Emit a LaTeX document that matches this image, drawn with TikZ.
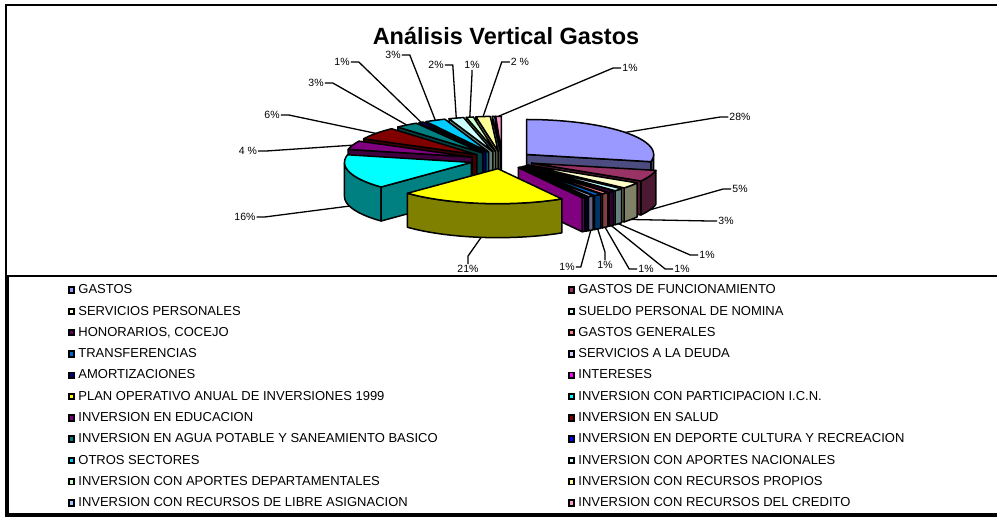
\documentclass[tikz,border=0pt]{standalone}
\usepackage{fontspec}
\setmainfont{Liberation Sans}
\usetikzlibrary{positioning}

\definecolor{colGastos}{HTML}{9999FF}
\definecolor{colFunc}{HTML}{993366}
\definecolor{colServ}{HTML}{FFFFCC}
\definecolor{colSueldo}{HTML}{CCFFFF}
\definecolor{colHonor}{HTML}{660066}
\definecolor{colGenerales}{HTML}{FF8080}
\definecolor{colTransf}{HTML}{0066CC}
\definecolor{colDeuda}{HTML}{CCCCFF}
\definecolor{colAmort}{HTML}{000080}
\definecolor{colInter}{HTML}{FF00FF}
\definecolor{colPlan}{HTML}{FFFF00}
\definecolor{colIcn}{HTML}{00FFFF}
\definecolor{colEduc}{HTML}{800080}
\definecolor{colSalud}{HTML}{800000}
\definecolor{colAgua}{HTML}{008080}
\definecolor{colDeporte}{HTML}{0000FF}
\definecolor{colOtros}{HTML}{00CCFF}
\definecolor{colNac}{HTML}{CCFFFF}
\definecolor{colDepto}{HTML}{CCFFCC}
\definecolor{colPropios}{HTML}{FFFF99}
\definecolor{colLibre}{HTML}{99CCFF}
\definecolor{colCredito}{HTML}{FF99CC}

\tikzset{
  wall/.style={fill=#1!50!black, draw=black, line width=1.5pt, line join=round},
  slicetop/.style={fill=#1, draw=black, line width=1.5pt, line join=round},
  pct/.style={inner sep=1pt, font=\fontsize{10.5}{12}\selectfont},
  leader/.style={draw=black, line width=1.3pt},
  swatch/.style={draw=black, line width=1.9pt, minimum width=4.5pt, minimum height=5.5pt, inner sep=0pt},
  legtext/.style={inner sep=0pt, font=\fontsize{13}{15}\selectfont}
}

\newcommand\explode{0.25}
% one exploded slice: start angle, end angle, colour, name
\newcommand\pieslice[4]{%
  \pgfmathsetmacro\pmid{(#1+#2)/2}%
  \pgfmathsetmacro\pdx{\explode*sin(\pmid)}%
  \pgfmathsetmacro\pdy{\explode*cos(\pmid)}%
  \begin{scope}[shift={(\pdx,\pdy,0)}]
    \pgfmathsetmacro\wfrom{max(#1,90)}%
    \pgfmathsetmacro\wto{min(#2,270)}%
    \ifdim\wfrom pt<\wto pt
      \filldraw[wall=#3] plot[domain=\wfrom:\wto,samples=30] ({sin(\x)},{cos(\x)},0)
        -- plot[domain=\wto:\wfrom,samples=30] ({sin(\x)},{cos(\x)},-1) -- cycle;
    \fi
    \pgfmathsetmacro\psinA{sin(#1)}%
    \ifdim\psinA pt<-0.001pt
      \filldraw[wall=#3] (0,0,0) -- ({sin(#1)},{cos(#1)},0) -- ({sin(#1)},{cos(#1)},-1) -- (0,0,-1) -- cycle;
    \fi
    \pgfmathsetmacro\psinB{sin(#2)}%
    \ifdim\psinB pt>0.001pt
      \filldraw[wall=#3] (0,0,0) -- ({sin(#2)},{cos(#2)},0) -- ({sin(#2)},{cos(#2)},-1) -- (0,0,-1) -- cycle;
    \fi
    \filldraw[slicetop=#3] (0,0,0) -- plot[domain=#1:#2,samples=30] ({sin(\x)},{cos(\x)},0) -- cycle;
    \pgfmathsetmacro\pz{cos(\pmid)>0 ? 0 : -1}%
    \coordinate (a#4) at ({sin(\pmid)},{cos(\pmid)},\pz);
  \end{scope}}

\begin{document}
\begin{tikzpicture}[x=1pt, y=-1pt]
  \useasboundingbox (0,0) rectangle (997,519);

  % frame of chart and legend
  \draw[line width=2pt] (6,276) -- (6,5) -- (997,5);
  \draw[line width=2.5pt] (6,276) -- (997,276);
  \draw[line width=3.5pt] (7,276) -- (7,515) -- (997,515);

  \node[font=\bfseries\fontsize{23.5}{26}\selectfont, anchor=base, inner sep=0pt] (title) at (506,45) {Análisis Vertical Gastos};

  % the pie, back slices first
  \begin{scope}[shift={(502,160)}, x={(127pt,0pt)}, y={(0pt,35pt)}, z={(0pt,34pt)}]
    \foreach \sa/\sb/\col/\nm in {357.48/360/colCredito/Credito, 356.4/357.48/colLibre/Libre,
        349.92/356.4/colPropios/Propios, 346.68/349.92/colDepto/Depto, 339.84/346.68/colNac/Nac,
        330.48/339.84/colOtros/Otros, 328.32/330.48/colDeporte/Deporte, 317.88/328.32/colAgua/Agua,
        0/101.88/colGastos/Gastos, 297/317.88/colSalud/Salud, 282.6/297/colEduc/Educ,
        225.36/282.6/colIcn/Icn, 101.88/120.6/colFunc/Func, 120.6/130.68/colServ/Serv,
        130.68/135/colSueldo/Sueldo, 135/137.88/colHonor/Honor, 137.88/141.12/colGenerales/Generales,
        141.12/144.72/colTransf/Transf, 144.72/147.24/colDeuda/Deuda, 147.24/148.68/colAmort/Amort,
        148.68/149.76/colInter/Inter, 149.76/225.36/colPlan/Plan}
      {\pieslice{\sa}{\sb}{\col}{\nm}}
  \end{scope}

  % percentage labels and leader lines
  \foreach \nm/\lx/\ly/\lbl/\sd/\ox/\oy in {Gastos/740/117/28\%/west/-8/0, Func/740/189/5\%/west/-8/0,
      Serv/726/221/3\%/west/-8/0, Sueldo/707/255/1\%/west/-8/0, Honor/682/269/1\%/west/-8/0,
      Generales/646/269/1\%/west/-8/0, Transf/605/265/1\%/north/0/-8, Deuda/567/267/1\%/east/5/0,
      Plan/468/269/21\%/north/0/-8, Icn/245/217/16\%/east/8/0, Educ/248/151/4 \%/east/8/0,
      Salud/272/115/6\%/east/8/0, Agua/316/83/3\%/east/8/0, Deporte/342/62/1\%/east/8/0,
      Otros/393/55/3\%/east/8/0, Nac/436/65/2\%/east/8/0, Depto/472/65/1\%/south/0/4,
      Propios/520/62/2 \%/west/-8/0, Credito/630/68/1\%/west/-8/0}
  {
    \node[pct] (l\nm) at (\lx,\ly) {\lbl};
    \draw[leader] (a\nm) -- ([shift={(\ox,\oy)}]l\nm.\sd) -- (l\nm.\sd);
  }

  % legend, left column
  \foreach \txt/\col [count=\i from 0] in {GASTOS/colGastos, SERVICIOS PERSONALES/colServ,
      HONORARIOS{,} COCEJO/colHonor, TRANSFERENCIAS/colTransf, AMORTIZACIONES/colAmort,
      PLAN OPERATIVO ANUAL DE INVERSIONES 1999/colPlan, INVERSION EN EDUCACION/colEduc,
      INVERSION EN AGUA POTABLE Y SANEAMIENTO BASICO/colAgua, OTROS SECTORES/colOtros,
      INVERSION CON APORTES DEPARTAMENTALES/colDepto, INVERSION CON RECURSOS DE LIBRE ASIGNACION/colLibre}
  {
    \node[swatch, fill=\col] (swL\i) at (71.5, 290+21.3*\i) {};
    \node[legtext, right=3.5pt of swL\i.south east, anchor=base west] (legL\i) {\txt};
  }
  % legend, right column
  \foreach \txt/\col [count=\i from 0] in {GASTOS DE FUNCIONAMIENTO/colFunc, SUELDO PERSONAL DE NOMINA/colSueldo,
      GASTOS GENERALES/colGenerales, SERVICIOS A LA DEUDA/colDeuda, INTERESES/colInter,
      INVERSION CON PARTICIPACION I.C.N./colIcn, INVERSION EN SALUD/colSalud,
      INVERSION EN DEPORTE CULTURA Y RECREACION/colDeporte, INVERSION CON APORTES NACIONALES/colNac,
      INVERSION CON RECURSOS PROPIOS/colPropios, INVERSION CON RECURSOS DEL CREDITO/colCredito}
  {
    \node[swatch, fill=\col] (swR\i) at (571.5, 290+21.3*\i) {};
    \node[legtext, right=3.5pt of swR\i.south east, anchor=base west] (legR\i) {\txt};
  }
\end{tikzpicture}
\end{document}
